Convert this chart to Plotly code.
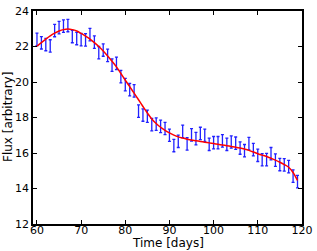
import plotly.graph_objects as go

days = list(range(60, 120))
flux = [22.40, 22.21, 22.11, 22.03, 22.90, 23.06, 23.15, 23.18, 22.56, 22.45,
        22.39, 22.37, 22.67, 22.25, 21.65, 21.80, 21.50, 20.95, 21.05, 20.30,
        19.85, 19.57, 19.50, 18.36, 18.14, 18.07, 17.60, 17.63, 17.50, 17.38,
        17.00, 16.42, 16.66, 17.22, 16.51, 17.02, 16.81, 17.10, 17.00, 16.49,
        16.58, 16.58, 16.68, 16.49, 16.62, 16.55, 16.28, 16.13, 16.53, 16.19,
        15.87, 15.62, 15.63, 15.96, 15.60, 15.35, 15.33, 15.23, 14.70, 14.39]
flux_err = [0.35] * len(days)

fit_days = list(range(60, 120))
fit_flux = [22.02, 22.22, 22.42, 22.60, 22.75, 22.87, 22.95, 22.98, 22.95, 22.87,
            22.74, 22.59, 22.42, 22.22, 22.00, 21.75, 21.47, 21.17, 20.85, 20.48,
            20.10, 19.74, 19.37, 19.00, 18.62, 18.25, 17.92, 17.66, 17.45, 17.28,
            17.13, 17.01, 16.91, 16.84, 16.78, 16.73, 16.69, 16.65, 16.61, 16.57,
            16.53, 16.49, 16.45, 16.41, 16.37, 16.33, 16.28, 16.22, 16.15, 16.06,
            15.96, 15.88, 15.80, 15.70, 15.60, 15.48, 15.35, 15.20, 14.90, 14.45]

x_ticks = [60, 70, 80, 90, 100, 110, 120]
y_ticks = [12, 14, 16, 18, 20, 22, 24]
x_title = "Time [days]"
y_title = "Flux [arbitrary]"

fig = go.Figure()
fig.add_trace(go.Scatter(
    x=days, y=flux, mode="markers",
    marker=dict(size=0.1, color="rgba(0,0,255,0)"),
    error_y=dict(type="data", array=flux_err, visible=True,
                 color="#2020ff", thickness=1.3, width=1.5),
    showlegend=False, hoverinfo="skip",
))
fig.add_trace(go.Scatter(
    x=fit_days, y=fit_flux, mode="lines", line_shape="spline",
    line=dict(color="#ff0000", width=1.5),
    showlegend=False,
))

axis_common = dict(
    showline=True, linecolor="black", linewidth=1.5, mirror="ticks",
    ticks="inside", ticklen=4, tickwidth=1, tickcolor="black",
    showgrid=False, zeroline=False,
    tickfont=dict(family="DejaVu Sans", size=11, color="black"),
)
fig.update_xaxes(range=[59.1, 120.02], tickvals=x_ticks, ticklabelstandoff=-5,
                 ticklabeloverflow="allow", **axis_common)
fig.update_yaxes(range=[12, 24], tickvals=y_ticks, **axis_common)

title_font = dict(family="DejaVu Sans", size=12, color="black")
fig.add_annotation(text=x_title, xref="paper", yref="paper", x=0.5, y=0,
                   xanchor="center", yanchor="middle", yshift=-19,
                   showarrow=False, font=title_font)
fig.add_annotation(text=y_title, xref="paper", yref="paper", x=0, y=0.5,
                   xanchor="center", yanchor="middle", xshift=-25.5,
                   textangle=-90, showarrow=False, font=title_font)

fig.update_layout(
    width=317, height=251,
    margin=dict(l=33, r=6, t=5, b=27),
    paper_bgcolor="white", plot_bgcolor="white",
)
fig.write_html("out.html", config={"displayModeBar": False},
               post_script="document.body.style.margin='0';document.body.style.overflow='hidden';")
